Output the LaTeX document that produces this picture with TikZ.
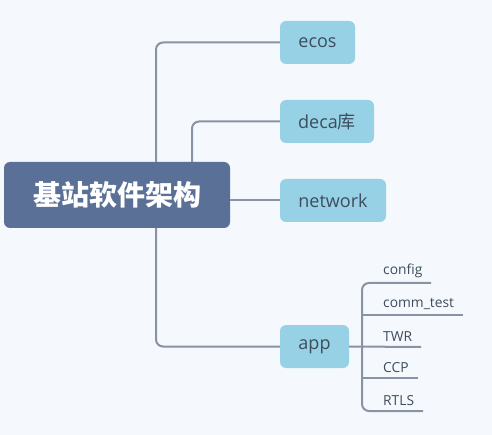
\documentclass[tikz,border=0pt]{standalone}
\usepackage{fontspec}
\setmainfont{Open Sans}
\newfontfamily\cjk{Noto Sans CJK SC}
\newfontfamily\cjkb{Noto Sans CJK SC Bold}
\definecolor{bg}{HTML}{F5F9FD}
\definecolor{rootc}{HTML}{5A7096}
\definecolor{childc}{HTML}{96D1E6}
\definecolor{linec}{HTML}{8A93A5}
\definecolor{txt}{HTML}{3D4D5C}
\tikzset{
  conn/.style={draw=linec, line width=2pt, rounded corners=7pt},
  rootbox/.style={fill=rootc, rounded corners=6pt, text=white, inner sep=0pt},
  childbox/.style={fill=childc, rounded corners=6pt, text=txt, inner sep=0pt},
  leaf/.style={text=txt, anchor=south west, inner sep=0pt, font=\fontsize{13.8}{16}\selectfont}
}
\begin{document}
\begin{tikzpicture}[x=1pt,y=-1pt]
\fill[bg] (0,0) rectangle (492,435);
\useasboundingbox (0,0) rectangle (492,435);
% root
\node[rootbox, minimum width=226pt, minimum height=66pt] (root) at (117,195) {\fontsize{28}{30}\cjkb\bfseries 基站软件架构};
% children
\node[childbox, minimum width=75pt, minimum height=43pt, font=\fontsize{18}{20}\selectfont] (ecos) at (317.5,42.5) {ecos};
\node[childbox, minimum width=94pt, minimum height=43pt, font=\fontsize{18}{20}\selectfont] (deca) at (327,121.5) {deca{\cjk 库}};
\node[childbox, minimum width=106pt, minimum height=43pt, font=\fontsize{18}{20}\selectfont] (net) at (333,200.5) {network};
\node[childbox, minimum width=69pt, minimum height=43pt, font=\fontsize{18}{20}\selectfont] (app) at (314.5,346.5) {app};
% connectors
\draw[conn] (root.north -| 156,0) |- (ecos.west);
\draw[conn] (root.north -| 192,0) |- (deca.west);
\draw[conn] (root.east |- net.west) -- (net.west);
\draw[conn] (root.south -| 156,0) |- (app.west);
% leaves
\coordinate (hub) at (362,347);
\coordinate (e1) at (431,283);
\coordinate (e2) at (463,315);
\coordinate (e3) at (421,347);
\coordinate (e4) at (418,378);
\coordinate (e5) at (423,411);
\node[leaf] (l1) at (383,278) {config};
\node[leaf] (l2) at (383,310) {comm\_test};
\node[leaf] (l3) at (383,342) {TWR};
\node[leaf] (l4) at (383,373) {CCP};
\node[leaf] (l5) at (383,406) {RTLS};
\draw[conn] (app.east) -- (e3);
\draw[conn] (e1) -- (hub |- e1) -- (hub |- e5) -- (e5);
\draw[conn] (hub |- e2) -- (e2);
\draw[conn] (hub |- e4) -- (e4);
\end{tikzpicture}
\end{document}
